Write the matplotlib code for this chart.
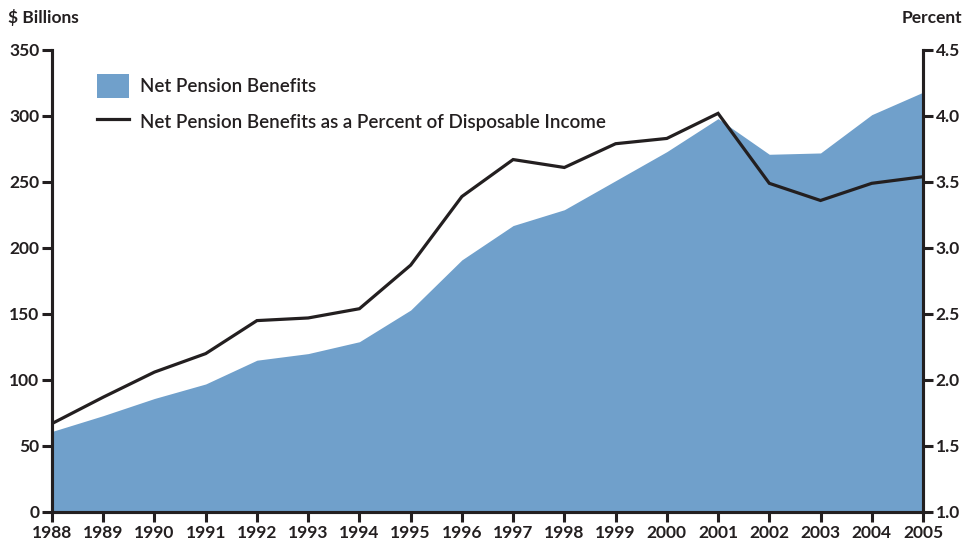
import matplotlib
matplotlib.use("Agg")
import matplotlib.pyplot as plt
from matplotlib.patches import Patch
from matplotlib.lines import Line2D

years = list(range(1988, 2006))
benefits = [61, 73, 86, 97, 115, 120, 129, 153, 191, 217, 229, 251, 273, 298, 271, 272, 301, 318]
pct_income = [1.67, 1.87, 2.06, 2.20, 2.45, 2.47, 2.54, 2.87, 3.39, 3.67, 3.61, 3.79, 3.83, 4.02, 3.49, 3.36, 3.49, 3.54]
left_ticks = [0, 50, 100, 150, 200, 250, 300, 350]
right_ticks = [1.0, 1.5, 2.0, 2.5, 3.0, 3.5, 4.0, 4.5]

plt.rcParams['font.family'] = ['Lato', 'DejaVu Sans']
blue = '#70a0cb'
dark = '#231f20'

fig = plt.figure(figsize=(9.68, 5.44), dpi=100)
ax = fig.add_axes([52/968, 1-512/544, (923-52)/968, (512-50)/544])
ax.fill_between(years, benefits, 0, color=blue, lw=0)
ax.set_xlim(1988, 2005)
ax.set_ylim(0, 350)
ax.set_yticks(left_ticks)
ax.set_xticks(years)

ax2 = ax.twinx()
ax2.plot(years, pct_income, color=dark, lw=2.3, solid_joinstyle='miter')
ax2.set_ylim(1.0, 4.5)
ax2.set_yticks(right_ticks)
ax2.set_yticklabels([f"{v:.1f}" for v in right_ticks])

for a in (ax, ax2):
    for s in ('top',):
        a.spines[s].set_visible(False)
    for s in ('left', 'right', 'bottom'):
        a.spines[s].set_linewidth(2.2)
        a.spines[s].set_color(dark)
    a.tick_params(axis='both', length=7, width=2.2, color=dark, labelsize=12.5,
                  labelcolor=dark, pad=2)
    for lbl in a.get_xticklabels() + a.get_yticklabels():
        lbl.set_fontweight('bold')

fig.text(8/968, 1-18/544, '$ Billions', fontsize=12.5, fontweight='bold', color=dark, va='center', ha='left')
fig.text(962/968, 1-18/544, 'Percent', fontsize=12.5, fontweight='bold', color=dark, va='center', ha='right')

handles = [Patch(facecolor=blue, edgecolor='none'),
           Line2D([0], [0], color=dark, lw=2.3)]
labels = ['Net Pension Benefits', 'Net Pension Benefits as a Percent of Disposable Income']
leg = ax.legend(handles, labels, loc='upper left', bbox_to_anchor=(0.0517, 0.947), frameon=False,
                prop={'family': ['Lato', 'DejaVu Sans'], 'weight': 'semibold', 'size': 13.5},
                handlelength=1.7, handleheight=1.55, labelspacing=0.65,
                handletextpad=0.6, labelcolor=dark, borderpad=0, borderaxespad=0)

fig.savefig('out.png', dpi=100)
